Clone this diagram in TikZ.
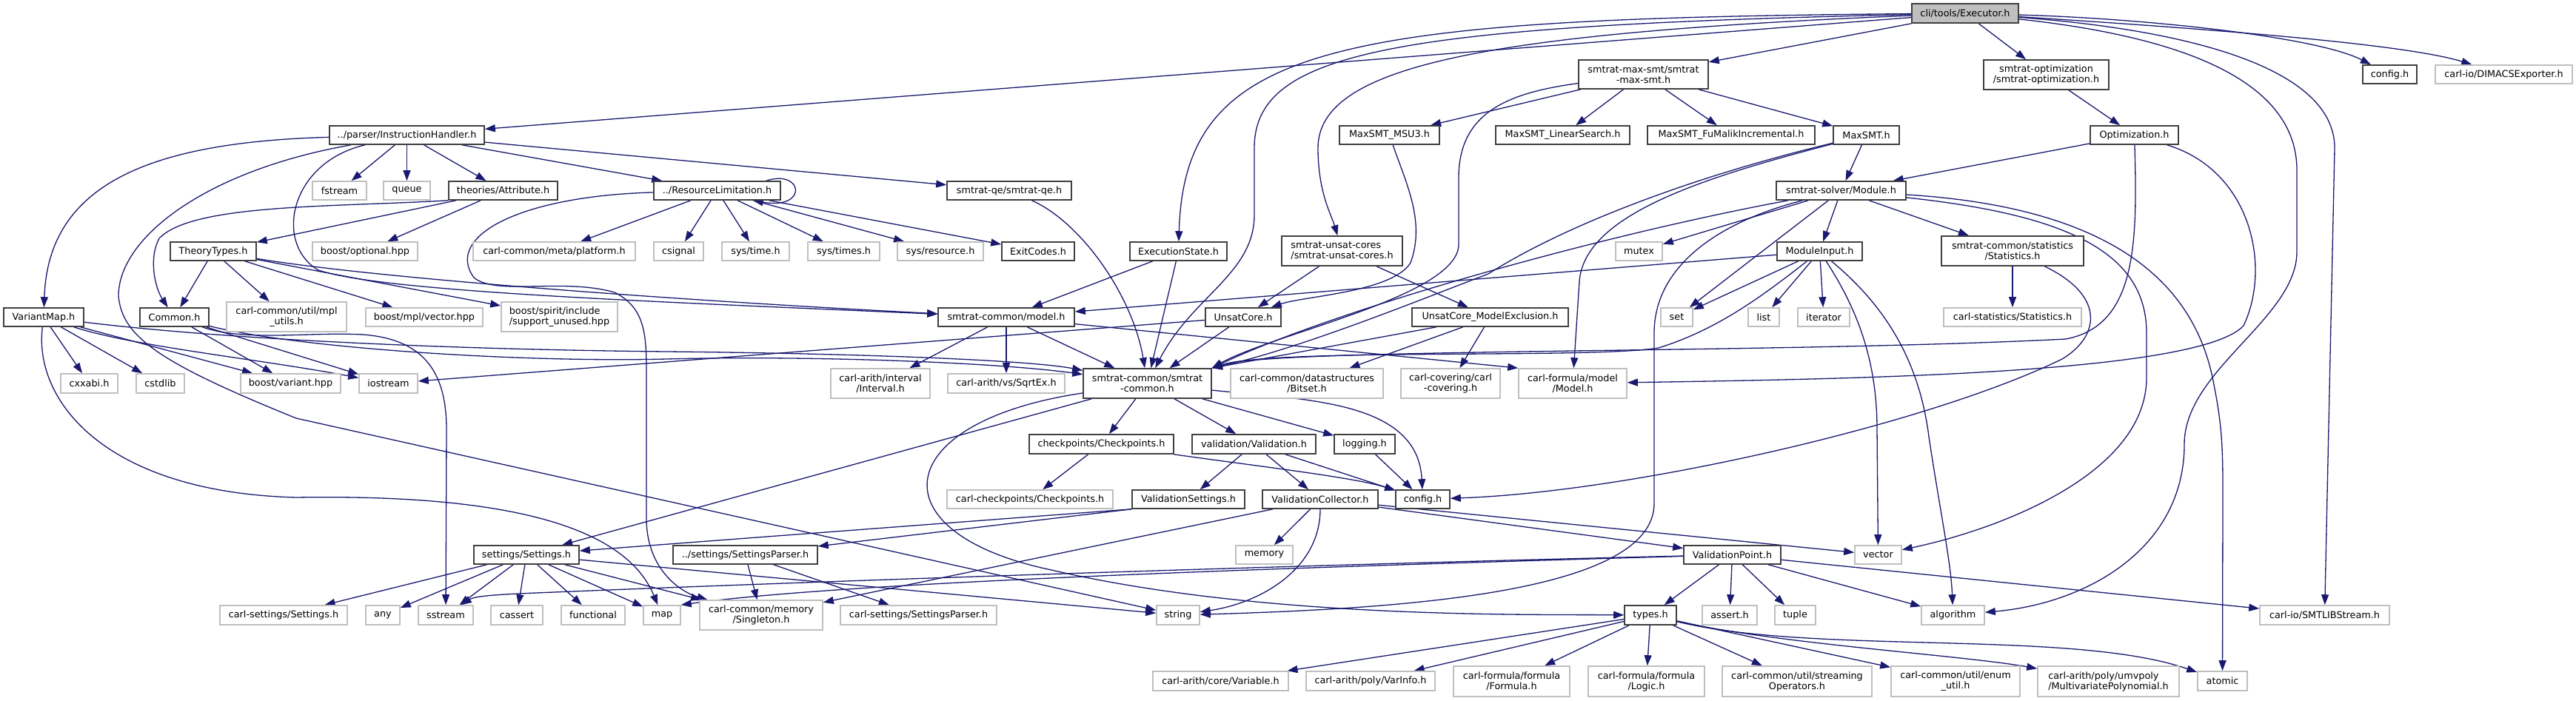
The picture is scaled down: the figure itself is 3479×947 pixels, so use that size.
\documentclass[tikz,border=0pt]{standalone}
\usepackage{fontspec}
\setmainfont{DejaVu Sans}
\usetikzlibrary{arrows.meta}
\definecolor{edgec}{HTML}{191970}
\definecolor{greyb}{HTML}{BFBFBF}
\definecolor{darkb}{HTML}{404040}
\pgfdeclarelayer{back}
\pgfdeclarelayer{edges}
\pgfsetlayers{back,edges,main}
\tikzset{
  basebox/.style={inner sep=0pt, fill=white, line width=1.6pt, align=center, font=\fontsize{12.8}{14}\selectfont},
  blkbox/.style={basebox, draw=darkb},
  blkboxl/.style={basebox, draw=darkb, align=left},
  grybox/.style={basebox, draw=greyb},
  gryboxl/.style={basebox, draw=greyb, align=left},
  exbox/.style={basebox, draw=darkb, fill=greyb},
  lnk/.style={draw=edgec, line width=1.3pt, -{Triangle[length=14pt,width=10pt]}},
}
\newcommand{\mybox}[6]{\node[#1,minimum width=#5pt,minimum height=#6pt] (#2) at (#3) {#4};}
\begin{document}
\begin{tikzpicture}[x=1pt,y=-1pt]
\useasboundingbox (0,0) rectangle (3479,947);
\begin{pgfonlayer}{back}
\fill[white] (0,0) rectangle (3479,947);
\end{pgfonlayer}
% ---------------- nodes ----------------
\mybox{exbox}{E}{2654,18}{cli/tools/Executor.h}{144}{26}
\mybox{blkbox}{MS}{2219.5,100.5}{smtrat-max-smt/smtrat\\-max-smt.h}{175}{39}
\mybox{blkbox}{SO}{2763.5,101}{smtrat-optimization\\/smtrat-optimization.h}{169}{40}
\mybox{blkbox}{CT}{3227.5,100.5}{config.h}{73}{25}
\mybox{grybox}{DX}{3381.5,100.5}{carl-io/DIMACSExporter.h}{185}{25}
\mybox{blkbox}{IH}{549.5,182.5}{../parser/InstructionHandler.h}{209}{25}
\mybox{blkbox}{MSU3}{1876.5,182.5}{MaxSMT\_MSU3.h}{135}{25}
\mybox{blkbox}{MLS}{2110.5,182.5}{MaxSMT\_LinearSearch.h}{181}{25}
\mybox{blkbox}{MFM}{2338,182.5}{MaxSMT\_FuMalikIncremental.h}{226}{25}
\mybox{blkbox}{MX}{2520.5,182.5}{MaxSMT.h}{89}{25}
\mybox{blkbox}{OPT}{2882.5,182.5}{Optimization.h}{119}{25}
\mybox{grybox}{FS}{458.5,257.5}{fstream}{73}{25}
\mybox{grybox}{QU}{549.5,257.5}{queue}{63}{25}
\mybox{blkbox}{ATT}{679.5,257.5}{theories/Attribute.h}{147}{25}
\mybox{blkbox}{RL}{968.5,257.5}{../ResourceLimitation.h}{171}{25}
\mybox{blkbox}{QE}{1363,257.5}{smtrat-qe/smtrat-qe.h}{168}{25}
\mybox{blkbox}{MOD}{2486.5,257.5}{smtrat-solver/Module.h}{175}{25}
\mybox{blkbox}{TT}{288,339.5}{TheoryTypes.h}{116}{25}
\mybox{grybox}{BO}{493,339.5}{boost/optional.hpp}{142}{25}
\mybox{grybox}{PLAT}{748.5,339.5}{carl-common/meta/platform.h}{219}{25}
\mybox{grybox}{CSIG}{916.5,339.5}{csignal}{67}{25}
\mybox{grybox}{ST}{1020.5,339.5}{sys/time.h}{91}{25}
\mybox{grybox}{STS}{1139.5,339.5}{sys/times.h}{97}{25}
\mybox{grybox}{SR}{1270,339.5}{sys/resource.h}{116}{25}
\mybox{blkbox}{EC}{1402,339.5}{ExitCodes.h}{98}{25}
\mybox{blkbox}{ES}{1591.5,339.5}{ExecutionState.h}{131}{25}
\mybox{blkboxl}{SUC}{1812.5,339}{smtrat-unsat-cores\\/smtrat-unsat-cores.h}{163}{40}
\mybox{grybox}{MUT}{2213.5,339.5}{mutex}{63}{25}
\mybox{blkbox}{MI}{2457.5,339.5}{ModuleInput.h}{115}{25}
\mybox{blkbox}{STAT}{2718,339}{smtrat-common/statistics\\/Statistics.h}{192}{40}
\mybox{blkbox}{VM}{59,428.5}{VariantMap.h}{108}{25}
\mybox{blkbox}{CM}{235.5,428.5}{Common.h}{93}{25}
\mybox{grybox}{MPL}{387,428}{carl-common/util/mpl\\\_utils.h}{162}{40}
\mybox{grybox}{BMV}{573,428.5}{boost/mpl/vector.hpp}{158}{25}
\mybox{gryboxl}{BSP}{755.5,428}{boost/spirit/include\\/support\_unused.hpp}{157}{40}
\mybox{blkbox}{MDL}{1359,428.5}{smtrat-common/model.h}{184}{25}
\mybox{blkbox}{UC}{1679,428.5}{UnsatCore.h}{102}{25}
\mybox{blkbox}{UCME}{2012.5,428.5}{UnsatCore\_ModelExclusion.h}{211}{25}
\mybox{grybox}{SET}{2264.5,428.5}{set}{43}{25}
\mybox{grybox}{LIST}{2382,428.5}{list}{42}{25}
\mybox{grybox}{ITER}{2463,428.5}{iterator}{70}{25}
\mybox{grybox}{CSTAT}{2718,428.5}{carl-statistics/Statistics.h}{186}{25}
\mybox{grybox}{CXX}{120.5,518}{cxxabi.h}{77}{26}
\mybox{grybox}{CSTD}{216.5,518}{cstdlib}{65}{26}
\mybox{grybox}{BV}{392.5,518}{boost/variant.hpp}{135}{26}
\mybox{grybox}{IOS}{524.5,518}{iostream}{79}{26}
\mybox{grybox}{INTV}{1189,518}{carl-arith/interval\\/Interval.h}{134}{40}
\mybox{grybox}{SQRT}{1359,518}{carl-arith/vs/SqrtEx.h}{158}{26}
\mybox{blkbox}{SC}{1549.5,518}{smtrat-common/smtrat\\-common.h}{173}{40}
\mybox{grybox}{BIT}{1765,518}{carl-common/datastructures\\/Bitset.h}{206}{40}
\mybox{grybox}{COV}{1959,518}{carl-covering/carl\\-covering.h}{134}{40}
\mybox{grybox}{FMOD}{2124,518}{carl-formula/model\\/Model.h}{146}{40}
\mybox{blkbox}{CP}{1487.5,600}{checkpoints/Checkpoints.h}{195}{26}
\mybox{blkbox}{VAL}{1693.5,600}{validation/Validation.h}{167}{26}
\mybox{blkbox}{LOG}{1843,600}{logging.h}{82}{26}
\mybox{grybox}{CCP}{1391,674.5}{carl-checkpoints/Checkpoints.h}{224}{25}
\mybox{blkbox}{VS}{1605,674.5}{ValidationSettings.h}{152}{25}
\mybox{blkbox}{VC}{1783,674.5}{ValidationCollector.h}{156}{25}
\mybox{blkbox}{CL}{1921.5,674.5}{config.h}{73}{25}
\mybox{blkbox}{SETT}{711,749.5}{settings/Settings.h}{142}{25}
\mybox{blkbox}{SP}{1006.5,749.5}{../settings/SettingsParser.h}{195}{25}
\mybox{grybox}{MEM}{1707.5,749.5}{memory}{77}{25}
\mybox{blkbox}{VP}{2339.5,749.5}{ValidationPoint.h}{131}{25}
\mybox{grybox}{VEC}{2536.5,749.5}{vector}{63}{25}
\mybox{grybox}{CSS}{383,831}{carl-settings/Settings.h}{172}{26}
\mybox{grybox}{ANY}{517,831}{any}{46}{26}
\mybox{grybox}{SS}{602,831}{sstream}{74}{26}
\mybox{grybox}{CAS}{698,831}{cassert}{70}{26}
\mybox{grybox}{FUN}{801,831}{functional}{86}{26}
\mybox{grybox}{MAP}{894,831}{map}{50}{26}
\mybox{grybox}{SING}{1028,831}{carl-common/memory\\/Singleton.h}{166}{40}
\mybox{grybox}{CSP}{1240.5,831}{carl-settings/SettingsParser.h}{211}{26}
\mybox{grybox}{STR}{1591,831}{string}{58}{26}
\mybox{blkbox}{TY}{2229,831}{types.h}{70}{26}
\mybox{grybox}{ASRT}{2336,831}{assert.h}{74}{26}
\mybox{grybox}{TUP}{2424.5,831}{tuple}{55}{26}
\mybox{grybox}{ALG}{2637.5,831}{algorithm}{85}{26}
\mybox{grybox}{SMTL}{3139.5,831}{carl-io/SMTLIBStream.h}{175}{26}
\mybox{grybox}{VAR}{1648.5,920}{carl-arith/core/Variable.h}{183}{26}
\mybox{grybox}{VI}{1851,920}{carl-arith/poly/VarInfo.h}{174}{26}
\mybox{grybox}{FORM}{2041.5,920.5}{carl-formula/formula\\/Formula.h}{157}{41}
\mybox{grybox}{LOGIC}{2223.5,920.5}{carl-formula/formula\\/Logic.h}{157}{41}
\mybox{grybox}{SOP}{2427,920.5}{carl-common/util/streaming\\Operators.h}{202}{41}
\mybox{grybox}{ENUM}{2641,920.5}{carl-common/util/enum\\\_util.h}{174}{41}
\mybox{gryboxl}{MVP}{2847.5,920.5}{carl-arith/poly/umvpoly\\/MultivariatePolynomial.h}{191}{41}
\mybox{grybox}{ATOM}{3001.5,920}{atomic}{67}{26}
% ---------------- edges ----------------
\begin{pgfonlayer}{edges}
% Executor
\draw[lnk] (E) -- (IH);
\draw[lnk] (E) -- (MS);
\draw[lnk] (E) -- (SO);
\draw[lnk] (E) .. controls (2900,25) and (3130,50) .. (CT);
\draw[lnk] (E) .. controls (3000,40) and (3250,60) .. (DX);
\draw[lnk] (E) .. controls (2950,40) and (3153,90) .. (3153,200) -- (SMTL);
\draw[lnk] (E) .. controls (2950,50) and (3102,110) .. (3102,230) -- (3102,340) .. controls (3102,430) and (2950,500) .. (2950,600) .. controls (2950,740) and (2820,815) .. (ALG);
\draw[lnk] (E) .. controls (1800,25) and (1600,60) .. (ES);
\draw[lnk] (E) .. controls (1880,35) and (1694,70) .. (1694,200) -- (1694,290) .. controls (1694,370) and (1610,400) .. (SC);
\draw[lnk] (E) .. controls (2000,45) and (1780,90) .. (1780,200) .. controls (1780,260) and (1798,290) .. (SUC);
% smtrat-max-smt
\draw[lnk] (MS) -- (MSU3);
\draw[lnk] (MS) -- (MLS);
\draw[lnk] (MS) -- (MFM);
\draw[lnk] (MS) -- (MX);
\draw[lnk] (MS) .. controls (2040,125) and (1970,150) .. (1970,240) -- (1970,330) .. controls (1970,400) and (1720,450) .. (SC.north east);
\draw[lnk] (MSU3) .. controls (1900,250) and (1925,300) .. (1905,355) .. controls (1880,395) and (1760,400) .. (UC);
\draw[lnk] (MX) -- (MOD);
\draw[lnk] (MX) .. controls (2300,235) and (2120,300) .. (2010,370) .. controls (1930,400) and (1760,470) .. (SC.north east);
\draw[lnk] (MX) .. controls (2300,240) and (2140,290) .. (2133,380) -- (FMOD);
% optimization
\draw[lnk] (SO) -- (OPT);
\draw[lnk] (OPT) -- (MOD);
\draw[lnk] (OPT) .. controls (2887,330) and (2885,440) .. (2790,458) .. controls (2400,478) and (1720,470) .. (SC.north east);
\draw[lnk] (OPT) .. controls (3040,230) and (3068,360) .. (3030,440) .. controls (2970,505) and (2500,512) .. (FMOD);
% unsat cores
\draw[lnk] (SUC) -- (UC);
\draw[lnk] (SUC) -- (UCME);
\draw[lnk] (UCME) -- (SC.north east);
\draw[lnk] (UCME) -- (BIT);
\draw[lnk] (UCME) -- (COV);
\draw[lnk] (UC) -- (SC);
\draw[lnk] (UC) -- (IOS);
\draw[lnk] (ES) -- (MDL);
\draw[lnk] (ES) -- (SC);
\draw[lnk] (QE) .. controls (1460,300) and (1530,400) .. (SC);
% model
\draw[lnk] (MDL) -- (SC);
\draw[lnk] (MDL) -- (INTV);
\draw[lnk] (MDL) -- (SQRT);
\draw[lnk] (MDL) -- (FMOD.north west);
% module input
\draw[lnk] (MI) -- (MDL);
\draw[lnk] (MI) -- (SET);
\draw[lnk] (MI) -- (LIST);
\draw[lnk] (MI) -- (ITER);
\draw[lnk] (MI) .. controls (2380,400) and (2320,445) .. (2240,470) .. controls (2150,485) and (1720,470) .. (SC.north east);
\draw[lnk] (MI) .. controls (2530,400) and (2590,470) .. (2605,590) .. controls (2620,690) and (2635,760) .. (ALG);
\draw[lnk] (MI) .. controls (2510,420) and (2535,490) .. (2535,580) -- (VEC);
% module
\draw[lnk] (MOD) -- (MUT);
\draw[lnk] (MOD) -- (MI);
\draw[lnk] (MOD) -- (STAT);
\draw[lnk] (MOD) -- (SET);
\draw[lnk] (MOD) .. controls (2150,320) and (1800,420) .. (SC.north east);
\draw[lnk] (MOD) .. controls (2320,300) and (2234,360) .. (2234,450) -- (2234,680) .. controls (2234,800) and (1900,822) .. (STR);
\draw[lnk] (MOD) .. controls (2790,290) and (2899,340) .. (2899,450) -- (2899,510) .. controls (2899,640) and (2700,715) .. (VEC);
\draw[lnk] (MOD) .. controls (2850,280) and (2965,380) .. (2990,520) .. controls (3000,570) and (3002,600) .. (3002,660) -- (ATOM);
% statistics
\draw[lnk] (STAT) -- (CSTAT);
\draw[lnk] (STAT) .. controls (2845,400) and (2835,455) .. (2785,485) .. controls (2600,575) and (2200,665) .. (CL);
% instruction handler
\draw[lnk] (IH) .. controls (200,192) and (65,250) .. (VM);
\draw[lnk] (IH) .. controls (280,230) and (160,320) .. (160,400) .. controls (165,455) and (215,490) .. (400,565) -- (STR);
\draw[lnk] (IH) .. controls (390,220) and (370,330) .. (430,365) .. controls (520,395) and (900,408) .. (MDL);
\draw[lnk] (IH) -- (FS);
\draw[lnk] (IH) -- (QU);
\draw[lnk] (IH) -- (ATT);
\draw[lnk] (IH) -- (RL);
\draw[lnk] (IH) -- (QE);
% attribute / theory types
\draw[lnk] (ATT) -- (TT);
\draw[lnk] (ATT) -- (BO);
\draw[lnk] (ATT.south west) .. controls (450,280) and (260,275) .. (215,322) .. controls (200,350) and (210,390) .. (CM);
\draw[lnk] (TT) -- (CM);
\draw[lnk] (TT) -- (MPL);
\draw[lnk] (TT) -- (BMV);
\draw[lnk] (TT) -- (BSP);
\draw[lnk] (TT) .. controls (500,375) and (900,405) .. (MDL);
% common
\draw[lnk] (CM) -- (BV);
\draw[lnk] (CM) -- (IOS);
\draw[lnk] (CM) .. controls (400,470) and (700,490) .. (900,485) .. controls (1100,480) and (1350,490) .. (SC);
\draw[lnk] (CM) .. controls (330,462) and (420,448) .. (490,452) .. controls (570,458) and (603,500) .. (603,580) -- (SS);
% variant map
\draw[lnk] (VM) -- (CXX);
\draw[lnk] (VM) -- (CSTD);
\draw[lnk] (VM) -- (BV);
\draw[lnk] (VM) .. controls (180,468) and (350,485) .. (IOS);
\draw[lnk] (VM) .. controls (300,458) and (600,472) .. (900,475) .. controls (1200,478) and (1400,488) .. (SC);
\draw[lnk] (VM) .. controls (45,540) and (140,665) .. (400,672) .. controls (650,668) and (840,700) .. (MAP);
% resource limitation
\draw[lnk] (RL) -- (PLAT);
\draw[lnk] (RL) -- (CSIG);
\draw[lnk] (RL) -- (ST);
\draw[lnk] (RL) -- (STS);
\draw[lnk] (RL) -- (SR);
\draw[lnk] (RL) -- (EC);
\draw[lnk] ([xshift=-20pt]RL.north east) .. controls (1085,228) and (1092,284) .. ([xshift=-38pt]RL.south east);
\draw[lnk] (RL) .. controls (700,265) and (600,320) .. (640,375) .. controls (670,400) and (760,375) .. (830,395) .. controls (870,415) and (873,450) .. (873,500) -- (873,700) .. controls (873,770) and (920,800) .. (SING);
% smtrat-common
\draw[lnk] (SC) -- (CP);
\draw[lnk] (SC) -- (VAL);
\draw[lnk] (SC) -- (LOG);
\draw[lnk] (SC) .. controls (1760,540) and (1915,540) .. (CL);
\draw[lnk] (SC) -- (SETT);
\draw[lnk] (SC) .. controls (1200,570) and (1180,720) .. (1420,770) .. controls (1700,835) and (2050,830) .. (TY);
% checkpoints / validation
\draw[lnk] (CP) -- (CCP);
\draw[lnk] (CP) .. controls (1700,630) and (1830,645) .. (CL);
\draw[lnk] (VAL) -- (VS);
\draw[lnk] (VAL) -- (VC);
\draw[lnk] (VAL) -- (CL);
\draw[lnk] (LOG) -- (CL);
\draw[lnk] (VS.south west) -- (SETT);
\draw[lnk] (VS.south west) -- (SP);
\draw[lnk] (VC) -- (MEM);
\draw[lnk] (VC) .. controls (1783,770) and (1700,815) .. (STR);
\draw[lnk] (VC) -- (VP);
\draw[lnk] (VC) -- (VEC);
\draw[lnk] (VC) -- (SING);
% settings
\draw[lnk] (SETT) -- (CSS);
\draw[lnk] (SETT) -- (ANY);
\draw[lnk] (SETT) -- (SS);
\draw[lnk] (SETT) -- (CAS);
\draw[lnk] (SETT) -- (FUN);
\draw[lnk] (SETT) -- (MAP);
\draw[lnk] (SETT) -- (SING);
\draw[lnk] (SETT) -- (STR);
\draw[lnk] (SP) -- (SING);
\draw[lnk] (SP) -- (CSP);
% validation point
\draw[lnk] (VP) -- (TY);
\draw[lnk] (VP) -- (ASRT);
\draw[lnk] (VP) -- (TUP);
\draw[lnk] (VP) -- (ALG);
\draw[lnk] (VP) -- (SMTL);
\draw[lnk] (VP) .. controls (1800,762) and (1100,785) .. (700,802) .. controls (660,804) and (640,806) .. (SS);
\draw[lnk] (VP) .. controls (1800,765) and (1150,785) .. (MAP.north east);
% types
\draw[lnk] (TY) -- (VAR);
\draw[lnk] (TY) -- (VI);
\draw[lnk] (TY) -- (FORM);
\draw[lnk] (TY) -- (LOGIC);
\draw[lnk] (TY) -- (SOP);
\draw[lnk] (TY) -- (ENUM);
\draw[lnk] (TY) .. controls (2400,870) and (2650,885) .. (MVP);
\draw[lnk] (TY) .. controls (2450,885) and (2800,850) .. (ATOM);
\end{pgfonlayer}
\end{tikzpicture}
\end{document}
